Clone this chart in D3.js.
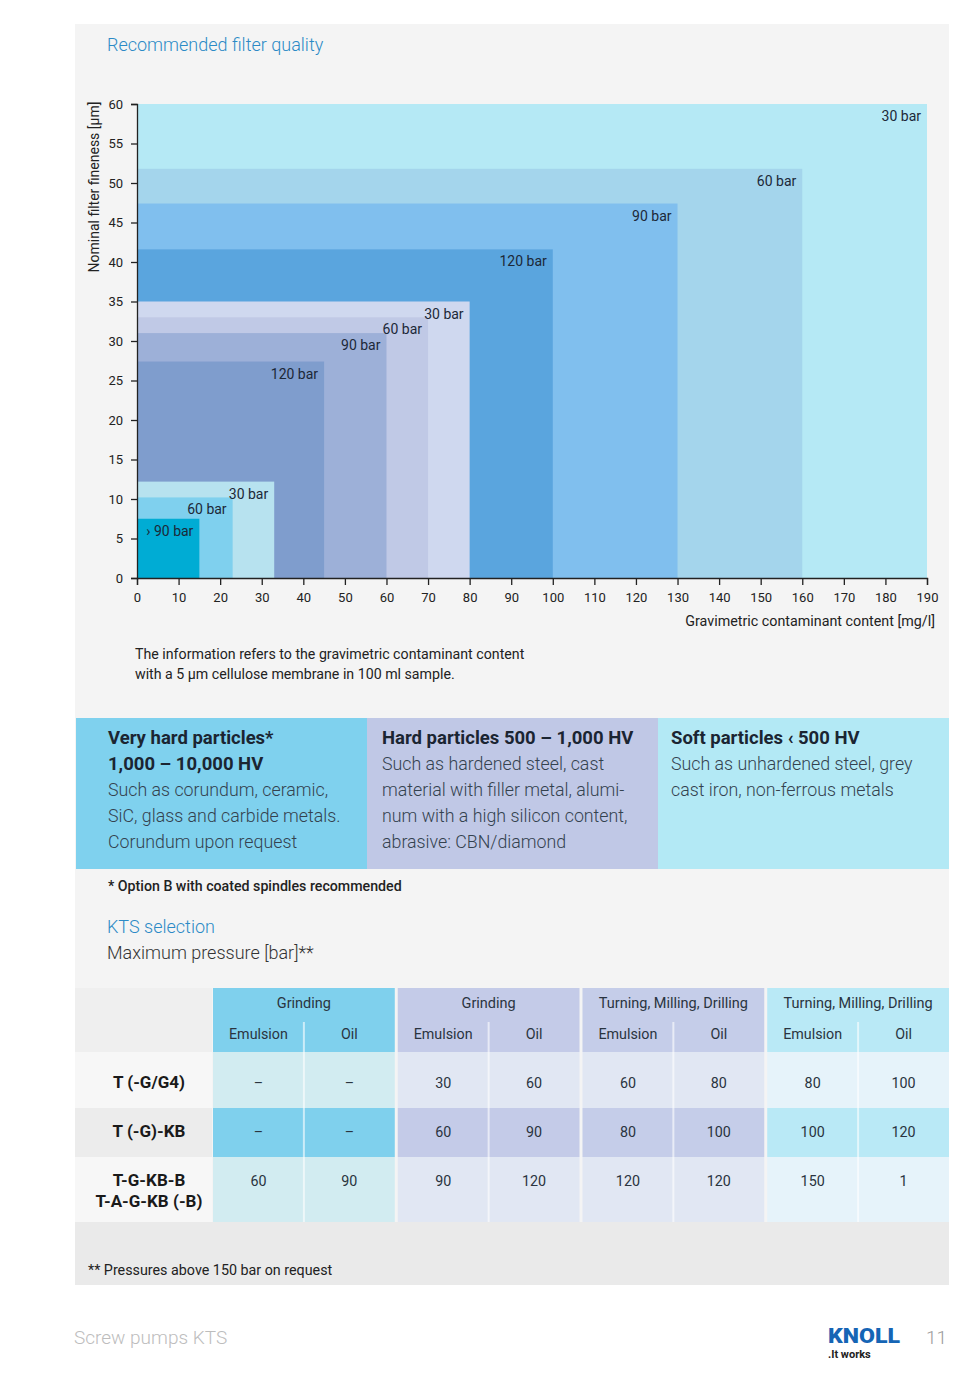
<!DOCTYPE html>
<html>
<head>
<meta charset="utf-8">
<script src="https://cdn.jsdelivr.net/npm/d3@7"></script>
<style>
body { margin: 0; background: #fff; }
svg { display: block; font-family: Roboto, "Noto Sans", sans-serif; }
</style>
</head>
<body>
<svg id="page" width="973" height="1376"></svg>
<script>
// filter chart: each box goes from (0,0) up to (contaminant, fineness)
const barLabels = ["30 bar", "60 bar", "90 bar", "120 bar",
                   "30 bar", "60 bar", "90 bar", "120 bar",
                   "30 bar", "60 bar", "› 90 bar"]
const contaminant = [190, 160, 130, 100, 80, 70, 60, 45, 33, 23, 15]
const fineness = [60, 51.8, 47.4, 41.6, 35, 33, 31, 27.4, 12.2, 10.2, 7.5]
const yTicks = d3.range(0, 61, 5)
const xTicks = d3.range(0, 191, 10)

// particle hardness boxes
const particleHeads = [["Very hard particles*", "1,000 – 10,000 HV"],
                       ["Hard particles 500 – 1,000 HV"],
                       ["Soft particles ‹ 500 HV"]]
const particleText = [["Such as corundum, ceramic,", "SiC, glass and carbide metals.", "Corundum upon request"],
                      ["Such as hardened steel, cast", "material with filler metal, alumi-", "num with a high silicon content,", "abrasive: CBN/diamond"],
                      ["Such as unhardened steel, grey", "cast iron, non-ferrous metals"]]

// KTS selection table
const tableGroups = ["Grinding", "Grinding", "Turning, Milling, Drilling", "Turning, Milling, Drilling"]
const subCols = ["Emulsion", "Oil"]
const rowLabels = [["T (-G/G4)"], ["T (-G)-KB"], ["T-G-KB-B", "T-A-G-KB (-B)"]]
const pressures = [["–", "–", "30", "60", "60", "80", "80", "100"],
                   ["–", "–", "60", "90", "80", "100", "100", "120"],
                   ["60", "90", "90", "120", "120", "120", "150", "1"]]

// colours
const barColors = ["#b5e9f5", "#a4d5ec", "#80bfee", "#5aa5de",
                   "#cfd8ef", "#c0c9e6", "#9db0d8", "#7f9dcd",
                   "#b7e2ef", "#7fd0ee", "#00acd4"]
const boxColors = ["#7fd1ee", "#c0c8e6", "#b3e9f5"]
const groupDark = ["#7fd0ed", "#c4cbe8", "#c5cde9", "#b9e9f6"]
const groupLight = ["#d2ecf1", "#e1e7f3", "#e1e7f3", "#e6f3fa"]
const labelCol = ["#f7f7f7", "#ececec", "#f7f7f7"]

const svg = d3.select("#page")

svg.append("rect")
    .attr("x", 75).attr("y", 24)
    .attr("width", 874).attr("height", 1261)
    .attr("fill", "#f4f4f4")

svg.append("text")
    .attr("x", 107).attr("y", 51)
    .attr("font-size", 18).attr("font-weight", 300)
    .attr("fill", "#2b8ac6")
    .text("Recommended filter quality")

// ---- chart
const x = d3.scaleLinear().domain([0, 190]).range([137, 927])
const y = d3.scaleLinear().domain([0, 60]).range([578, 104])

const chartG = svg.append("g").attr("id", "filterChart")

chartG.selectAll("rect.box")
    .data(contaminant)
    .enter()
    .append("rect")
    .attr("class", "box")
    .attr("x", x(0))
    .attr("y", (d, i) => y(fineness[i]))
    .attr("width", d => x(d) - x(0))
    .attr("height", (d, i) => y(0) - y(fineness[i]))
    .attr("fill", (d, i) => barColors[i])

chartG.selectAll("text.barLabel")
    .data(contaminant)
    .enter()
    .append("text")
    .attr("class", "barLabel")
    .attr("x", d => x(d) - 6)
    .attr("y", (d, i) => y(fineness[i]) + 17)
    .attr("text-anchor", "end")
    .attr("font-size", 14)
    .attr("fill", "#1c2838")
    .text((d, i) => barLabels[i])

chartG.append("g")
    .attr("transform", "translate(" + x(0) + ",0)")
    .call(d3.axisLeft(y).tickValues(yTicks).tickSize(6).tickPadding(8))
chartG.append("g")
    .attr("transform", "translate(0," + y(0) + ")")
    .call(d3.axisBottom(x).tickValues(xTicks).tickSize(7).tickPadding(8))

chartG.selectAll(".domain, .tick line").attr("stroke", "#222").attr("stroke-width", 1.3)
chartG.selectAll(".tick text").attr("font-size", 13).attr("fill", "#222").attr("font-family", "Roboto")

chartG.append("text")
    .attr("transform", "translate(99,187) rotate(-90)")
    .attr("text-anchor", "middle")
    .attr("font-size", 14).attr("fill", "#222")
    .text("Nominal filter fineness [µm]")

chartG.append("text")
    .attr("x", 935).attr("y", 626)
    .attr("text-anchor", "end")
    .attr("font-size", 14.3).attr("fill", "#222")
    .text("Gravimetric contaminant content [mg/l]")

svg.selectAll("text.note")
    .data(["The information refers to the gravimetric contaminant content",
           "with a 5 µm cellulose membrane in 100 ml sample."])
    .enter()
    .append("text")
    .attr("class", "note")
    .attr("x", 135)
    .attr("y", (d, i) => 659 + i * 20)
    .attr("font-size", 14.2).attr("fill", "#222")
    .text(d => d)

// ---- particle boxes
const boxX = d3.scaleBand().domain(d3.range(3)).range([76, 949])
const boxPad = [32, 15, 13]

const boxG = svg.selectAll("g.particle")
    .data(particleHeads)
    .enter()
    .append("g")
    .attr("class", "particle")
    .attr("transform", (d, i) => "translate(" + boxX(i) + ",718)")

boxG.append("rect")
    .attr("width", boxX.bandwidth())
    .attr("height", 151)
    .attr("fill", (d, i) => boxColors[i])

boxG.each(function(d, i) {
    const lines = d.map(t => ({t: t, bold: true})).concat(particleText[i].map(t => ({t: t, bold: false})))
    d3.select(this).selectAll("text")
        .data(lines)
        .enter()
        .append("text")
        .attr("x", boxPad[i])
        .attr("y", (l, j) => 26 + j * 26)
        .attr("font-size", l => l.bold ? 18.5 : 17.8)
        .attr("font-weight", l => l.bold ? 700 : 300)
        .attr("fill", l => l.bold ? "#1b2532" : "#34424f")
        .text(l => l.t)
})

svg.append("text")
    .attr("x", 108).attr("y", 891)
    .attr("font-size", 14.2).attr("font-weight", 500).attr("fill", "#222")
    .text("* Option B with coated spindles recommended")

svg.append("text")
    .attr("x", 107).attr("y", 933)
    .attr("font-size", 18).attr("font-weight", 300).attr("fill", "#2b8ac6")
    .text("KTS selection")

svg.append("text")
    .attr("x", 107).attr("y", 959)
    .attr("font-size", 18).attr("font-weight", 300).attr("fill", "#333")
    .text("Maximum pressure [bar]**")

// ---- table
const rowEdges = [988, 1018, 1052, 1108, 1157, 1222]
const rowTextY = [1088, 1137, 1186]
const groupX = d3.scaleBand().domain(d3.range(4)).range([213, 949]).paddingInner(0.016)
const subW = groupX.bandwidth() / 2

svg.append("rect")
    .attr("x", 75).attr("y", 1222)
    .attr("width", 874).attr("height", 63)
    .attr("fill", "#eaeaea")

svg.append("rect")
    .attr("x", 75).attr("y", rowEdges[0])
    .attr("width", 137).attr("height", rowEdges[2] - rowEdges[0])
    .attr("fill", "#efefef")

svg.selectAll("rect.labelCell")
    .data(rowLabels)
    .enter()
    .append("rect")
    .attr("class", "labelCell")
    .attr("x", 75)
    .attr("y", (d, i) => rowEdges[i + 2])
    .attr("width", 137)
    .attr("height", (d, i) => rowEdges[i + 3] - rowEdges[i + 2])
    .attr("fill", (d, i) => labelCol[i])

const tableG = svg.selectAll("g.group")
    .data(tableGroups)
    .enter()
    .append("g")
    .attr("class", "group")
    .attr("transform", (d, i) => "translate(" + groupX(i) + ",0)")

tableG.append("rect")
    .attr("y", rowEdges[0])
    .attr("width", groupX.bandwidth())
    .attr("height", rowEdges[2] - rowEdges[0])
    .attr("fill", (d, i) => groupDark[i])

tableG.each(function(d, g) {
    d3.select(this).selectAll("rect.cell")
        .data(pressures)
        .enter()
        .append("rect")
        .attr("class", "cell")
        .attr("y", (r, i) => rowEdges[i + 2])
        .attr("width", groupX.bandwidth())
        .attr("height", (r, i) => rowEdges[i + 3] - rowEdges[i + 2])
        .attr("fill", (r, i) => i == 1 ? groupDark[g] : groupLight[g])
})

tableG.append("line")
    .attr("x1", subW).attr("x2", subW)
    .attr("y1", 1022).attr("y2", rowEdges[5])
    .attr("stroke", "#ffffff").attr("stroke-opacity", 0.6).attr("stroke-width", 2)

tableG.append("text")
    .attr("x", groupX.bandwidth() / 2).attr("y", 1008)
    .attr("text-anchor", "middle")
    .attr("font-size", 14.5).attr("fill", "#2a3440")
    .text(d => d)

tableG.selectAll("text.sub")
    .data(subCols)
    .enter()
    .append("text")
    .attr("class", "sub")
    .attr("x", (d, i) => subW * i + subW / 2)
    .attr("y", 1039)
    .attr("text-anchor", "middle")
    .attr("font-size", 14.3).attr("fill", "#2a3440")
    .text(d => d)

pressures.forEach((row, r) => {
    svg.selectAll("text.val" + r)
        .data(row)
        .enter()
        .append("text")
        .attr("class", "val" + r)
        .attr("x", (d, c) => groupX(Math.floor(c / 2)) + subW * (c % 2) + subW / 2)
        .attr("y", rowTextY[r])
        .attr("text-anchor", "middle")
        .attr("font-size", 14.3).attr("fill", "#2a3440")
        .text(d => d)
})

rowLabels.forEach((lines, r) => {
    svg.selectAll("text.rowLab" + r)
        .data(lines)
        .enter()
        .append("text")
        .attr("class", "rowLab" + r)
        .attr("x", 149)
        .attr("y", (d, j) => rowTextY[r] + j * 21)
        .attr("text-anchor", "middle")
        .attr("font-size", 17).attr("font-weight", 700).attr("fill", "#1a1a1a")
        .text(d => d)
})

svg.append("text")
    .attr("x", 88).attr("y", 1275)
    .attr("font-size", 14.3).attr("fill", "#222")
    .text("** Pressures above 150 bar on request")

// ---- footer
svg.append("text")
    .attr("x", 74).attr("y", 1344)
    .attr("font-size", 19).attr("font-weight", 300).attr("fill", "#bdbdbd")
    .text("Screw pumps KTS")

svg.append("text")
    .attr("x", 828).attr("y", 1343)
    .attr("font-size", 20).attr("font-weight", 900).attr("fill", "#1565b5")
    .attr("textLength", 72).attr("lengthAdjust", "spacingAndGlyphs")
    .text("KNOLL")

svg.append("text")
    .attr("x", 828).attr("y", 1358)
    .attr("font-size", 11).attr("font-weight", 700).attr("fill", "#222")
    .text(".It works")

svg.append("text")
    .attr("x", 947).attr("y", 1344)
    .attr("text-anchor", "end")
    .attr("font-size", 19).attr("font-weight", 300).attr("fill", "#9a9a9a")
    .text("11")
</script>
</body>
</html>
